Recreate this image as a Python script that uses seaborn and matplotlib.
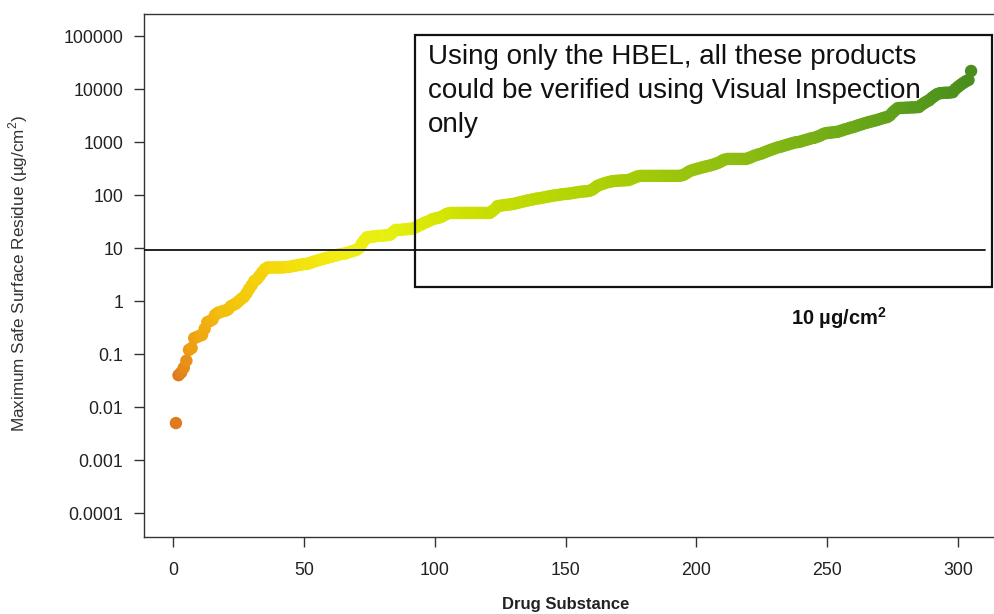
import numpy as np
import pandas as pd
import matplotlib
matplotlib.use("Agg")
import matplotlib.pyplot as plt
from matplotlib.colors import LinearSegmentedColormap
from matplotlib.patches import Rectangle
import seaborn as sns

# ---- data ----
residue = [
    0.005, 0.04, 0.045, 0.055, 0.075, 0.12, 0.13, 0.2, 0.21, 0.22,
    0.23, 0.3, 0.4, 0.42, 0.45, 0.55, 0.6, 0.62, 0.65, 0.66,
    0.7, 0.8, 0.85, 0.9, 1.0, 1.1, 1.2, 1.4, 1.7, 2.0,
    2.4, 2.6, 3.0, 3.5, 4.0, 4.3, 4.3, 4.3, 4.3, 4.3,
    4.3, 4.3, 4.4, 4.4, 4.5, 4.6, 4.7, 4.8, 4.9, 5.0,
    5.0, 5.2, 5.4, 5.6, 5.8, 6.0, 6.2, 6.4, 6.6, 6.8,
    7.0, 7.2, 7.5, 7.7, 7.8, 8.0, 8.3, 8.6, 8.9, 9.2,
    10, 12, 14, 16, 16, 16.5, 16.5, 17, 17, 17,
    17.5, 17.5, 18, 20, 22, 22, 22, 22.5, 22.5, 23,
    23, 24, 25, 27, 28, 30, 31, 33, 35, 36,
    37, 38, 40, 43, 45, 46, 46, 46, 46, 46,
    46, 46, 46, 46, 46, 46, 46, 46, 46, 46,
    46, 50, 55, 62, 63, 64, 65, 66, 67, 68,
    70, 72, 74, 76, 78, 80, 82, 84, 86, 87,
    89, 91, 93, 95, 97, 99, 100, 102, 104, 105,
    106, 108, 110, 112, 114, 116, 117, 118, 120, 125,
    135, 148, 155, 162, 168, 174, 178, 183, 185, 186,
    188, 189, 190, 192, 200, 210, 220, 228, 230, 230,
    230, 230, 230, 230, 230, 230, 230, 230, 230, 230,
    230, 230, 230, 232, 240, 255, 275, 290, 300, 310,
    320, 330, 340, 350, 360, 370, 385, 400, 420, 450,
    470, 480, 480, 480, 480, 480, 480, 480, 480, 500,
    520, 550, 570, 590, 610, 640, 670, 700, 730, 760,
    790, 810, 840, 870, 900, 930, 960, 990, 1000, 1030,
    1070, 1100, 1140, 1180, 1200, 1250, 1300, 1380, 1450, 1480,
    1500, 1520, 1540, 1560, 1620, 1680, 1750, 1800, 1870, 1920,
    2000, 2080, 2150, 2230, 2300, 2390, 2450, 2530, 2600, 2700,
    2800, 2900, 2960, 3200, 3600, 4000, 4370, 4400, 4400, 4450,
    4450, 4500, 4500, 4550, 4570, 5000, 5400, 5800, 6160, 6800,
    7400, 8000, 8340, 8400, 8500, 8500, 8600, 8720, 10000, 11000,
    12000, 13000, 14000, 14800, 21900,
]
drug_index = list(range(1, len(residue) + 1))

y_ticks = [1e-4, 1e-3, 1e-2, 1e-1, 1, 10, 100, 1000, 10000, 100000]
y_tick_labels = ["0.0001", "0.001", "0.01", "0.1", "1", "10", "100",
                 "1000", "10000", "100000"]
x_ticks = [0, 50, 100, 150, 200, 250, 300]
threshold = 9

annotation = ("Using only the HBEL, all these products\n"
              "could be verified using Visual Inspection\n"
              "only")

df = pd.DataFrame({"Drug": drug_index, "Residue": residue})

# ---- style ----
sns.set_style("white")
plt.rcParams["font.family"] = ["Liberation Sans", "DejaVu Sans"]
plt.rcParams["mathtext.fontset"] = "custom"
plt.rcParams["mathtext.rm"] = "Liberation Sans"
plt.rcParams["mathtext.bf"] = "Liberation Sans:bold"

fig = plt.figure(figsize=(9.94, 6.14), dpi=100)
ax = fig.add_axes([144 / 994, 1 - 537 / 614, (1003 - 144) / 994, (537 - 14) / 614])

cmap = LinearSegmentedColormap.from_list(
    "ramp",
    [(0.0, "#E07A1E"), (0.02, "#EEA012"), (0.06, "#F2C00E"),
     (0.12, "#F4D80A"), (0.2, "#F3EC12"), (0.27, "#E6F010"),
     (0.36, "#CFE200"), (0.55, "#ABCF06"), (0.72, "#8CBC12"),
     (0.86, "#6AA818"), (1.0, "#4A8E1E")])

sns.scatterplot(data=df, x="Drug", y="Residue", hue="Drug", palette=cmap,
                hue_norm=(1, len(residue)), legend=False, s=80,
                linewidth=0, ax=ax, zorder=3)

ax.set_yscale("log")
ax.set_xlim(-11.2, 317.2)
ax.set_ylim(10 ** -4.45, 10 ** 5.415)
ax.set_yticks(y_ticks)
ax.set_yticklabels(y_tick_labels)
ax.minorticks_off()
ax.set_xticks(x_ticks)
ax.set_xticklabels([str(t) for t in x_ticks])
ax.tick_params(axis="both", which="major", direction="out", length=7,
               width=1.0, color="#333333", labelsize=12.8,
               labelcolor="#222222", bottom=True, left=True)
ax.tick_params(axis="y", pad=8)
ax.tick_params(axis="x", pad=11)
ax.set_xlabel("")
ax.set_ylabel("")
for s in ax.spines.values():
    s.set_visible(True)
    s.set_color("#333333")
    s.set_linewidth(1.0)

# threshold line
ax.axhline(threshold, xmin=0, xmax=(985 - 144) / (1003 - 144),
           color="#111111", lw=1.3, zorder=4)

# annotation box
ax.add_patch(Rectangle((92.5, 1.84), 313 - 92.5, 1.05e5 - 1.84,
                       fill=False, edgecolor="#111111", lw=1.6, zorder=5))
ax.text(97.4, 10 ** 4.84, annotation, fontsize=20, color="#111111",
        va="top", ha="left", linespacing=1.38, zorder=6)
ax.text(236.0, 10 ** -0.32, r"10 µg/cm$^{\mathbf{2}}$", fontsize=14.5,
        fontweight="bold", color="#111111", va="center", ha="left", zorder=6)

fig.text(18 / 994, 1 - 273 / 614, "Maximum Safe Surface Residue (µg/cm$^2$)",
         rotation=90, ha="center", va="center", fontsize=12.3, color="#333333")
fig.text(566 / 994, 1 - 604 / 614, "Drug Substance", ha="center",
         va="center", fontsize=12, fontweight="bold", color="#222222")

fig.savefig("out.png", dpi=100)
